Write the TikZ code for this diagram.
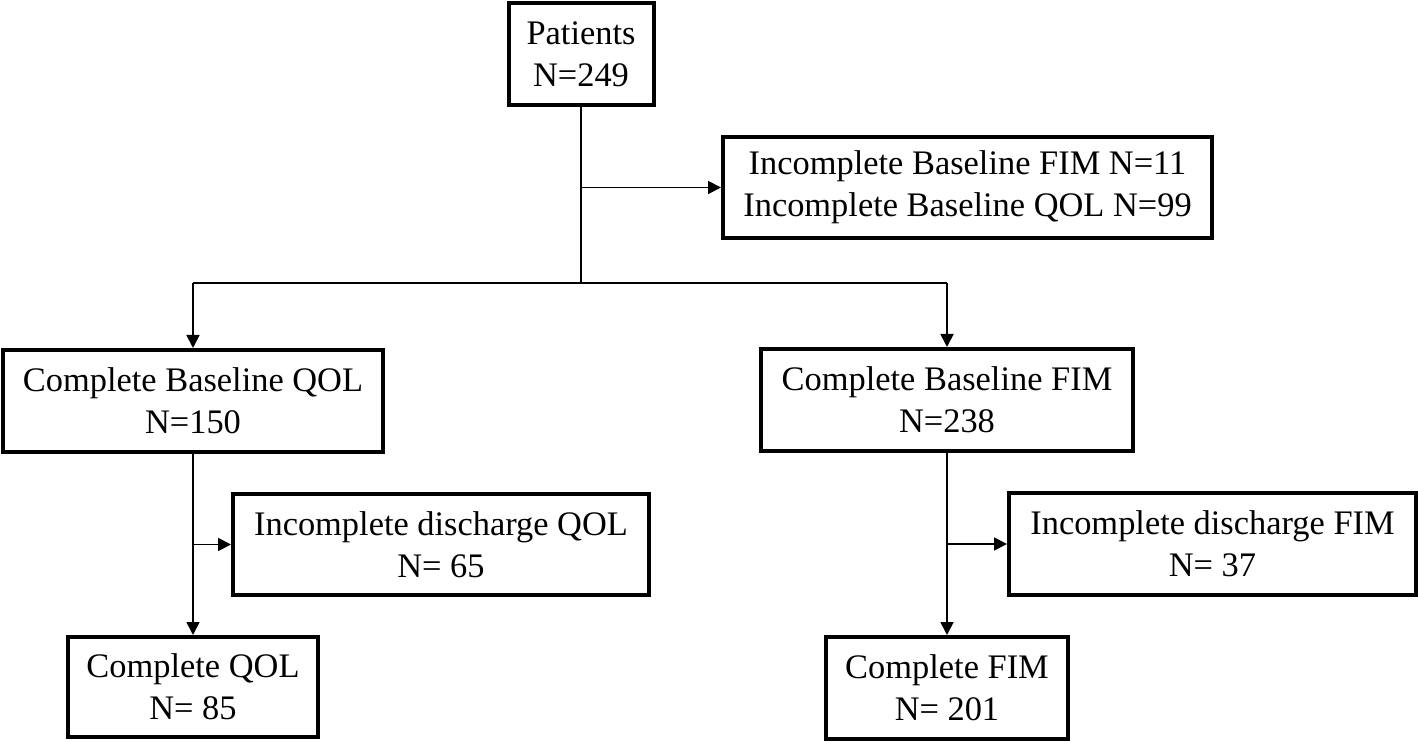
\documentclass[tikz,border=0pt]{standalone}
\usepackage{fontspec}
\setmainfont{Liberation Serif}
\usetikzlibrary{arrows.meta}
\begin{document}
\begin{tikzpicture}[x=0.5pt,y=-0.5pt,
  box/.style={draw, line width=2pt, inner sep=0pt, align=center,
    font=\fontsize{17.2}{21}\selectfont},
  conn/.style={line width=0.9pt},
  arr/.style={conn, -{Triangle[length=6.5pt,width=6.5pt]}}]
\useasboundingbox (0,0) rectangle (1418,742);
\node[box, minimum width=72.5pt, minimum height=51pt] (pat) at (581,54) {Patients\\N=249};
\node[box, minimum width=244.5pt, minimum height=50.5pt] (inc0) at (967.5,187.5) {Incomplete Baseline FIM N=11\\Incomplete Baseline QOL N=99};
\node[box, minimum width=190pt, minimum height=51pt] (cbq) at (193,401) {Complete Baseline QOL\\N=150};
\node[box, minimum width=186pt, minimum height=51pt] (cbf) at (947,400) {Complete Baseline FIM\\N=238};
\node[box, minimum width=208pt, minimum height=50.5pt] (idq) at (441,544.5) {Incomplete discharge QOL\\N= 65};
\node[box, minimum width=203.5pt, minimum height=51pt] (idf) at (1212.5,544) {Incomplete discharge FIM\\N= 37};
\node[box, minimum width=125pt, minimum height=50pt] (cq) at (193,687) {Complete QOL\\N= 85};
\node[box, minimum width=121pt, minimum height=51pt] (cf) at (947,688) {Complete FIM\\N= 201};
\coordinate (j1) at (581,283);
\draw[conn] (pat.south) -- (j1);
\draw[arr] (pat.south |- inc0.west) -- (inc0.west);
\draw[conn] (cbq.north |- j1) -- (cbf.north |- j1);
\draw[arr] (cbq.north |- j1) -- (cbq.north);
\draw[arr] (cbf.north |- j1) -- (cbf.north);
\draw[arr] (cbq.south) -- (cq.north);
\draw[arr] (cbq.south |- idq.west) -- (idq.west);
\draw[arr] (cbf.south) -- (cf.north);
\draw[arr] (cbf.south |- idf.west) -- (idf.west);
\end{tikzpicture}
\end{document}
